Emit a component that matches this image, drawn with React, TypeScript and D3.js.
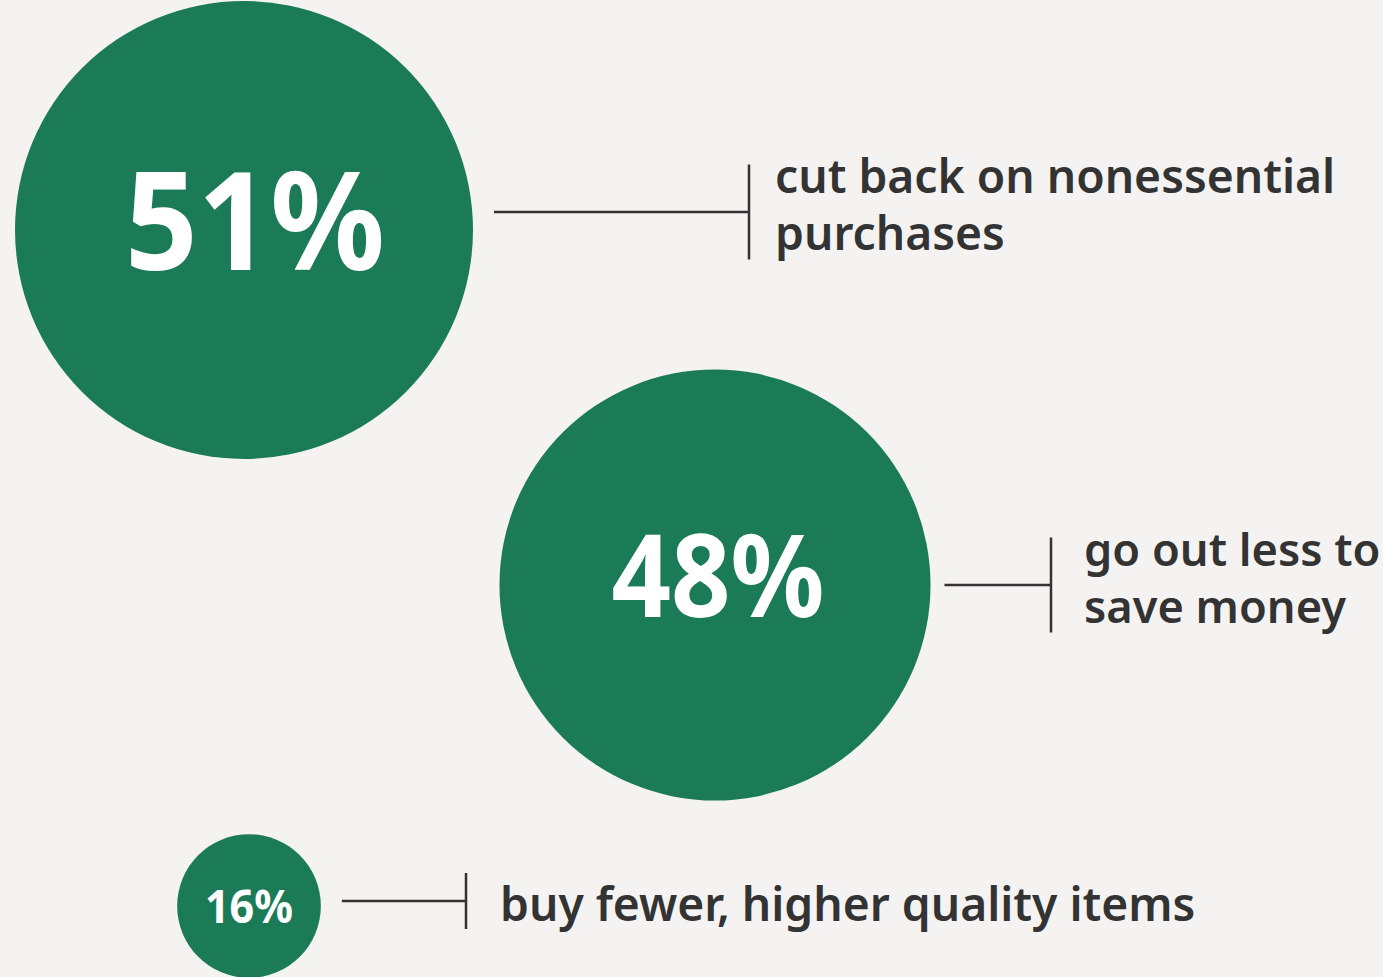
import React from "react";
import * as d3 from "d3";

// ---- data ----
const values: number[] = [51, 48, 16];
const valueLabels: string[] = ["51%", "48%", "16%"];
const descriptions: string[][] = [
  ["cut back on nonessential", "purchases"],
  ["go out less to", "save money"],
  ["buy fewer, higher quality items"],
];

// ---- layout / style ----
const W = 1383;
const H = 977;
const BG = "#f4f3f1";
const GREEN = "#1b7b57";
const INK = "#333333";
const centers: [number, number][] = [
  [244, 230],
  [715, 585],
  [249, 906],
];
const numFont = [137, 115, 46];
const numWidth = [260, 213, 88];
const numDx = [11, 3, 0];
const numDy = [40, 32, 17];
const lineY = [212, 585, 901];
const lineGap = [21, 14, 21];
const tickX = [749, 1051, 466];
const tickHalf = [47.5, 47.5, 28];
const labelX = [775, 1084, 500];
const labelFont = [46.2, 45.2, 46.2];
const LINE_H = 57;

export default function App() {
  const r = d3.scaleLinear().domain([0, 100]).range([0, 449]);
  const font = "'Noto Sans', 'Open Sans', sans-serif";
  return (
    <svg
      width={W}
      height={H}
      style={{ position: "fixed", left: 0, top: 0, display: "block", background: BG }}
    >
      <rect x={0} y={0} width={W} height={H} fill={BG} />
      {values.map((v, i) => {
        const [cx, cy] = centers[i];
        const rad = r(v);
        const lines = descriptions[i];
        const firstBaseline =
          lines.length === 1 ? lineY[i] + 20 : lineY[i] - 19;
        return (
          <g key={i}>
            <circle cx={cx} cy={cy} r={rad} fill={GREEN} />
            <text
              x={cx + numDx[i]}
              y={cy + numDy[i]}
              textAnchor="middle"
              fontFamily={font}
              fontWeight={700}
              fontSize={numFont[i]}
              textLength={numWidth[i]}
              lengthAdjust="spacingAndGlyphs"
              fill="#ffffff"
            >
              {valueLabels[i]}
            </text>
            <line
              x1={cx + rad + lineGap[i]}
              x2={tickX[i]}
              y1={lineY[i]}
              y2={lineY[i]}
              stroke={INK}
              strokeWidth={2.5}
            />
            <line
              x1={tickX[i]}
              x2={tickX[i]}
              y1={lineY[i] - tickHalf[i]}
              y2={lineY[i] + tickHalf[i]}
              stroke={INK}
              strokeWidth={2.5}
            />
            <text
              x={labelX[i]}
              y={firstBaseline}
              fontFamily={font}
              fontWeight={600}
              fontSize={labelFont[i]}
              fill={INK}
            >
              {lines.map((l, j) => (
                <tspan key={j} x={labelX[i]} dy={j === 0 ? 0 : LINE_H}>
                  {l}
                </tspan>
              ))}
            </text>
          </g>
        );
      })}
    </svg>
  );
}
